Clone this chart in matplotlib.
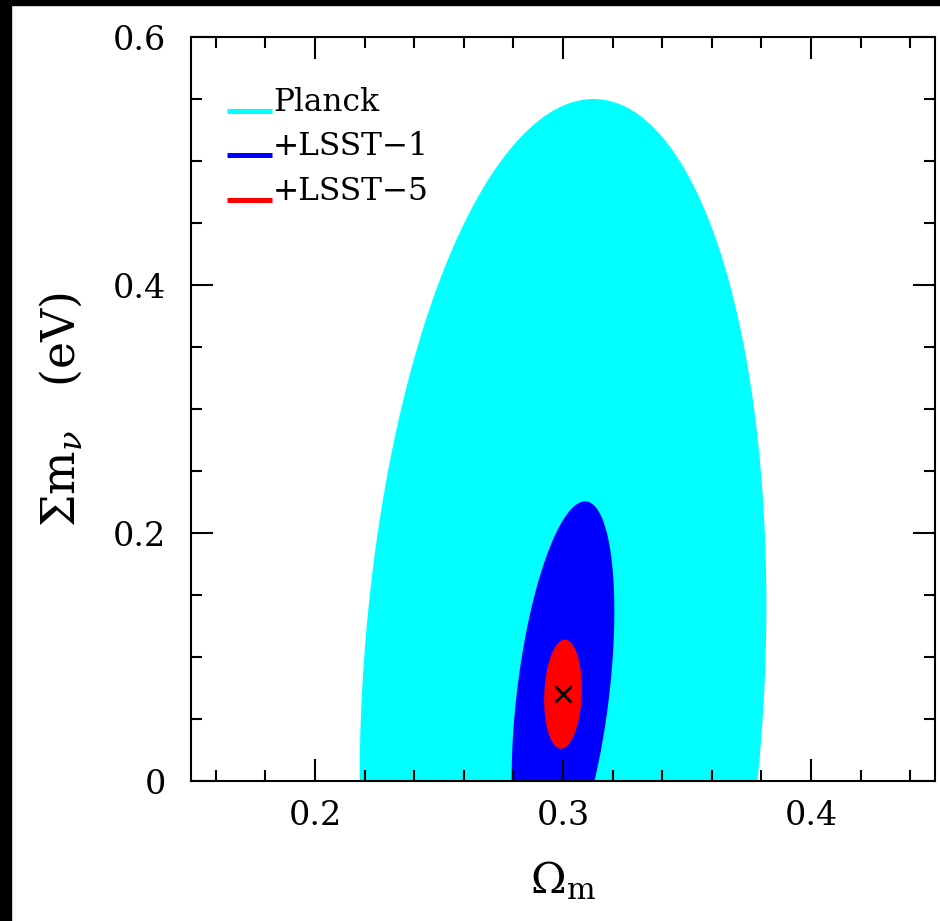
import numpy as np
import matplotlib
matplotlib.use('Agg')
import matplotlib.pyplot as plt
from matplotlib.patches import Rectangle

plt.rcParams['font.family'] = ['DejaVu Serif']
plt.rcParams['mathtext.fontset'] = 'dejavuserif'

# fiducial point
fid_om = 0.30
fid_mnu = 0.07

# contours: Planck, +LSST-1, +LSST-5
labels = ['Planck', '+LSST\u22121', '+LSST\u22125']
colors = ['#00ffff', '#0000ff', '#ff0000']
sig_om = [0.082, 0.0207, 0.0076]
sig_mnu = [0.48, 0.1555, 0.044]
rho = [0.15, 0.43, 0.10]

def ellipse(cx, cy, sx, sy, r, n=400):
    t = np.linspace(0, 2*np.pi, n)
    C = np.array([[sx**2, r*sx*sy], [r*sx*sy, sy**2]])
    L = np.linalg.cholesky(C)
    pts = L @ np.vstack([np.cos(t), np.sin(t)])
    return cx + pts[0], cy + pts[1]

fig = plt.figure(figsize=(9.4, 9.21), dpi=100)
ax = fig.add_axes([191/940, 1-781/921, 744/940, 744/921])

for i in range(len(labels)):
    x, y = ellipse(fid_om, fid_mnu, sig_om[i], sig_mnu[i], rho[i])
    ax.fill(x, y, color=colors[i], lw=0)

ax.plot([fid_om], [fid_mnu], marker='x', color='k', ms=11, mew=2)

# legend drawn by hand (line on baseline of text)
leg_y = [0.9005, 0.841, 0.781]
for i in range(len(labels)):
    ax.plot([0.048, 0.109], [leg_y[i], leg_y[i]], color=colors[i], lw=3.6,
            transform=ax.transAxes, solid_capstyle='butt')
    ax.text(0.110, leg_y[i], labels[i], transform=ax.transAxes,
            fontsize=22.5, va='baseline', ha='left')

ax.set_xlim(0.15, 0.45)
ax.set_ylim(0.0, 0.6)
ax.set_xticks([0.2, 0.3, 0.4])
ax.set_xticklabels(['0.2', '0.3', '0.4'])
ax.set_xticks(np.arange(0.16, 0.45, 0.02), minor=True)
ax.set_yticks([0.0, 0.2, 0.4, 0.6])
ax.set_yticklabels(['0', '0.2', '0.4', '0.6'])
ax.set_yticks(np.arange(0.05, 0.6, 0.05), minor=True)

ax.tick_params(which='both', direction='in', top=True, right=True,
               width=1.5, labelsize=24)
ax.tick_params(which='major', length=16, pad=14)
ax.tick_params(which='minor', length=8)
ax.tick_params(axis='y', which='major', pad=18)
for s in ax.spines.values():
    s.set_linewidth(1.5)

ax.set_xlabel(r'$\Omega_{\rm m}$', fontsize=31, labelpad=20)
ax.set_ylabel(r'$\Sigma {\rm m}_\nu$   (eV)', fontsize=33, labelpad=20)

# black frame strips on top and left edge
fig.patches.append(Rectangle((0, 1-5/921), 1, 5/921, transform=fig.transFigure,
                             color='k', zorder=10))
fig.patches.append(Rectangle((0, 0), 11/940, 1, transform=fig.transFigure,
                             color='k', zorder=10))

fig.savefig('out.png', dpi=100)
